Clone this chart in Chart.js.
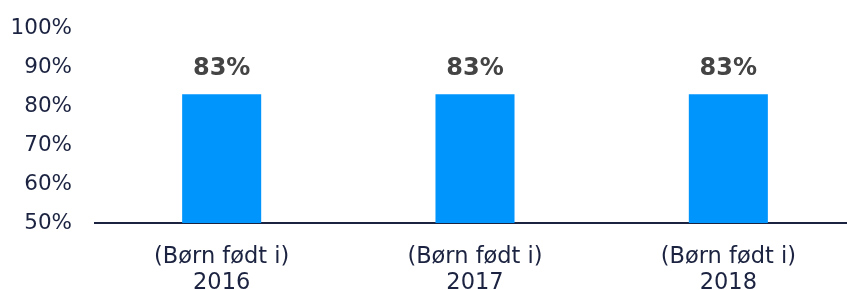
<!DOCTYPE html>
<html>
<head>
<meta charset="utf-8">
<script src="https://cdn.jsdelivr.net/npm/chart.js@4"></script>
<style>
  html, body { margin: 0; padding: 0; background: #fff; overflow: hidden; }
  #wrap { width: 855px; height: 290px; }
</style>
</head>
<body>
<div id="wrap"><canvas id="myChart"></canvas></div>
<script>
const categories = [['(Børn født i)', '2016'], ['(Børn født i)', '2017'], ['(Børn født i)', '2018']];
const shares = [83, 83, 83];
const yTicks = [50, 60, 70, 80, 90, 100];

const textColor = '#1b2340';
const fontFamily = '"DejaVu Sans", sans-serif';

// draws the bold value above each bar
const valueLabels = {
    id: 'valueLabels',
    afterDatasetsDraw(chart) {
        const ctx = chart.ctx;
        const meta = chart.getDatasetMeta(0);
        ctx.save();
        ctx.font = 'bold 24px ' + fontFamily;
        ctx.fillStyle = '#444444';
        ctx.textAlign = 'center';
        ctx.textBaseline = 'middle';
        meta.data.forEach((bar, i) => {
            ctx.fillText(shares[i] + '%', bar.x, bar.y - 26);
        });
        ctx.restore();
    }
};

const ctx = document.getElementById('myChart').getContext('2d');
const myChart = new Chart(ctx, {
    type: 'bar',
    data: {
        labels: categories,
        datasets: [{
            data: shares,
            backgroundColor: '#0094fd',
            categoryPercentage: 1,
            barPercentage: 0.312
        }]
    },
    options: {
        responsive: true,
        maintainAspectRatio: false,
        animation: false,
        layout: { padding: { top: 28, right: 0, left: 0, bottom: 0 } },
        scales: {
            x: {
                grid: { display: false, drawTicks: false },
                border: { display: true, color: textColor, width: 2 },
                afterFit: axis => {
                    axis.height = 67;
                    axis.paddingLeft = 0;
                    axis.paddingRight = 0;
                },
                ticks: {
                    color: textColor,
                    font: { family: fontFamily, size: 22.5, lineHeight: 1.15 },
                    padding: 21,
                    maxRotation: 0
                }
            },
            y: {
                min: 50,
                max: 100,
                afterBuildTicks: axis => { axis.ticks = yTicks.map(v => ({ value: v })); },
                afterFit: axis => {
                    axis.width = 95;
                    axis.paddingTop = 0;
                    axis.paddingBottom = 0;
                },
                grid: { display: false, drawTicks: false },
                border: { display: false },
                ticks: {
                    color: textColor,
                    font: { family: fontFamily, size: 21.5 },
                    padding: 23,
                    callback: v => v + '%'
                }
            }
        },
        plugins: {
            legend: { display: false },
            tooltip: { enabled: false }
        }
    },
    plugins: [valueLabels]
});
</script>
</body>
</html>
